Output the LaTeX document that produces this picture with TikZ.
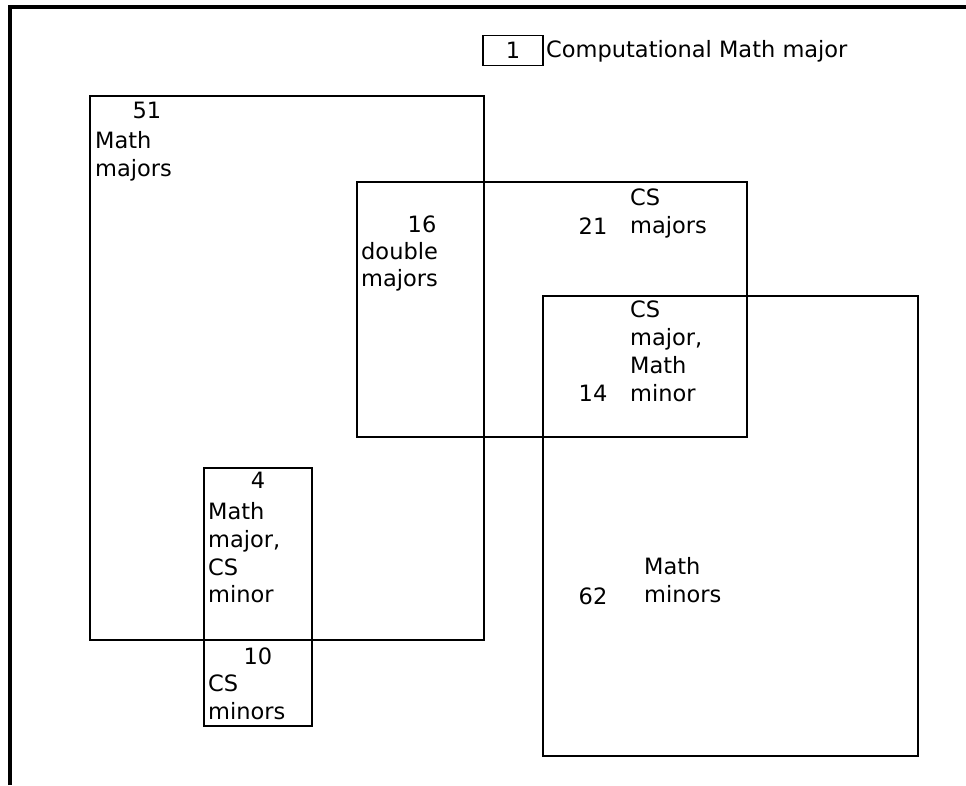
\documentclass[tikz,border=0pt]{standalone}
\usepackage{fontspec}
\setmainfont{DejaVu Sans}
\begin{document}
\begin{tikzpicture}[x=1pt,y=-1pt,
  region/.style={draw,line width=1.6pt,inner sep=0pt,fill=none},
  lbl/.style={inner sep=0pt,anchor=base west,align=left,font=\fontsize{22.5}{27.7}\selectfont},
  num/.style={inner sep=0pt,anchor=base,font=\fontsize{22.5}{27.7}\selectfont}]
\useasboundingbox (0,0) rectangle (966,785);
% frame
\draw[line width=4pt] (10,785) -- (10,6.5) -- (966,6.5);
% regions
\node[region,minimum width=394pt,minimum height=544pt] (mathmaj) at (287,368) {};
\node[region,minimum width=390pt,minimum height=255pt] (csmaj) at (552,309.5) {};
\node[region,minimum width=375pt,minimum height=460pt] (mathmin) at (730.5,526) {};
\node[region,minimum width=108pt,minimum height=258pt] (csmin) at (258,597) {};
\node[region,minimum width=60pt,minimum height=30pt] (legbox) at (513,50.5) {};
% legend
\node[num] (n1) at (513,58) {1};
\node[lbl] (legtext) at (546,57) {Computational Math major};
% labels (anchor = baseline of last line)
\node[num] (n51) at (147,118) {51};
\node[lbl] (t51) at (95,176) {Math\\majors};
\node[num] (n16) at (422,232) {16};
\node[lbl] (t16) at (361,286.7) {double\\majors};
\node[num] (n21) at (593,234) {21};
\node[lbl] (t21) at (630,233) {CS\\majors};
\node[num] (n14) at (593,401.5) {14};
\node[lbl] (t14) at (630,401) {CS\\major,\\Math\\minor};
\node[num] (n4) at (258,488) {4};
\node[lbl] (t4) at (208,602.8) {Math\\major,\\CS\\minor};
\node[num] (n10) at (258,664) {10};
\node[lbl] (t10) at (208,719) {CS\\minors};
\node[num] (n62) at (593,604) {62};
\node[lbl] (t62) at (644,602.5) {Math\\minors};
\end{tikzpicture}
\end{document}
